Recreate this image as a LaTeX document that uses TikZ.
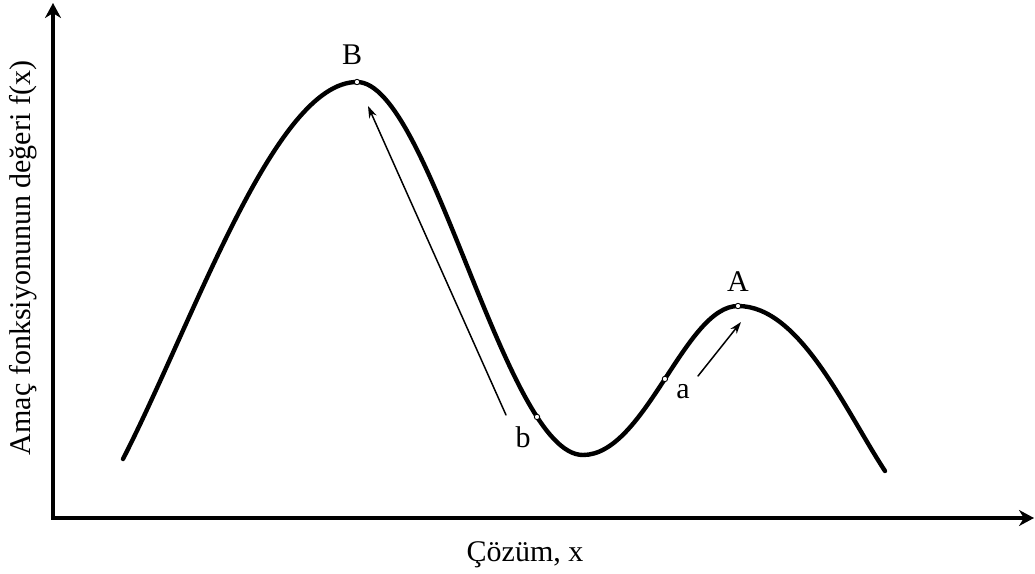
\documentclass[tikz,border=0pt]{standalone}
\usepackage{fontspec}
\setmainfont{Liberation Serif}
\usetikzlibrary{arrows.meta}
\begin{document}
\begin{tikzpicture}[x=1pt, y=-1pt, font=\fontsize{30}{34}\selectfont, line join=round, line cap=round]
				\useasboundingbox (0,0) rectangle (1035,573);
				\tikzset{curve/.style={line width=4.4pt}, axis/.style={line width=4.4pt, line cap=butt, -{Stealth[length=15pt,width=16pt]}}, move/.style={line width=1.5pt, -{Stealth[length=12pt,width=8pt]}}, pt/.style={fill=white, draw=black, line width=0.9pt}}
				\path
				(53,518) coordinate (O)
				(53,3) coordinate (Ytop)
				(1034,518) coordinate (Xend)
				(123,459) coordinate (S)
				(357,82) coordinate (B)
				(583,455) coordinate (M)
				(738,306) coordinate (A)
				(885,471) coordinate (E)
				(506,415) coordinate (b0)
				(368,106) coordinate (b1)
				(698,376) coordinate (a0)
				(741,322) coordinate (a1)
;
				\draw[axis] ([yshift=2.2pt]O)--(Ytop);
				\draw[axis] ([xshift=-2.2pt]O)--(Xend);
				% objective curve
				\draw[curve] (S) .. controls (195,318) and (275,82) .. (B)
				.. controls (430,82) and (505,455) .. (M) coordinate[pos=0.802] (b)
				.. controls (645,455) and (685,306) .. (A) coordinate[pos=0.507] (a)
				.. controls (800,306) and (845,410) .. (E);
				\draw[move] (b0)--(b1);
				\draw[move] (a0)--(a1);
				\foreach \p in {B,b,a,A} \draw[pt] (\p) circle (2.7pt);
				\node[anchor=base] (lB) at (352,64) {B};
				\node[anchor=base] (lA) at (738,291) {A};
				\node[anchor=base] (la) at (683,398) {a};
				\node[anchor=base] (lb) at (523,447) {b};
				\node[anchor=base] (xl) at (525,561) {Çözüm, x};
				\node[rotate=90] (yl) at (23,258) {Amaç fonksiyonunun değeri f(x)};
\end{tikzpicture}
\end{document}
